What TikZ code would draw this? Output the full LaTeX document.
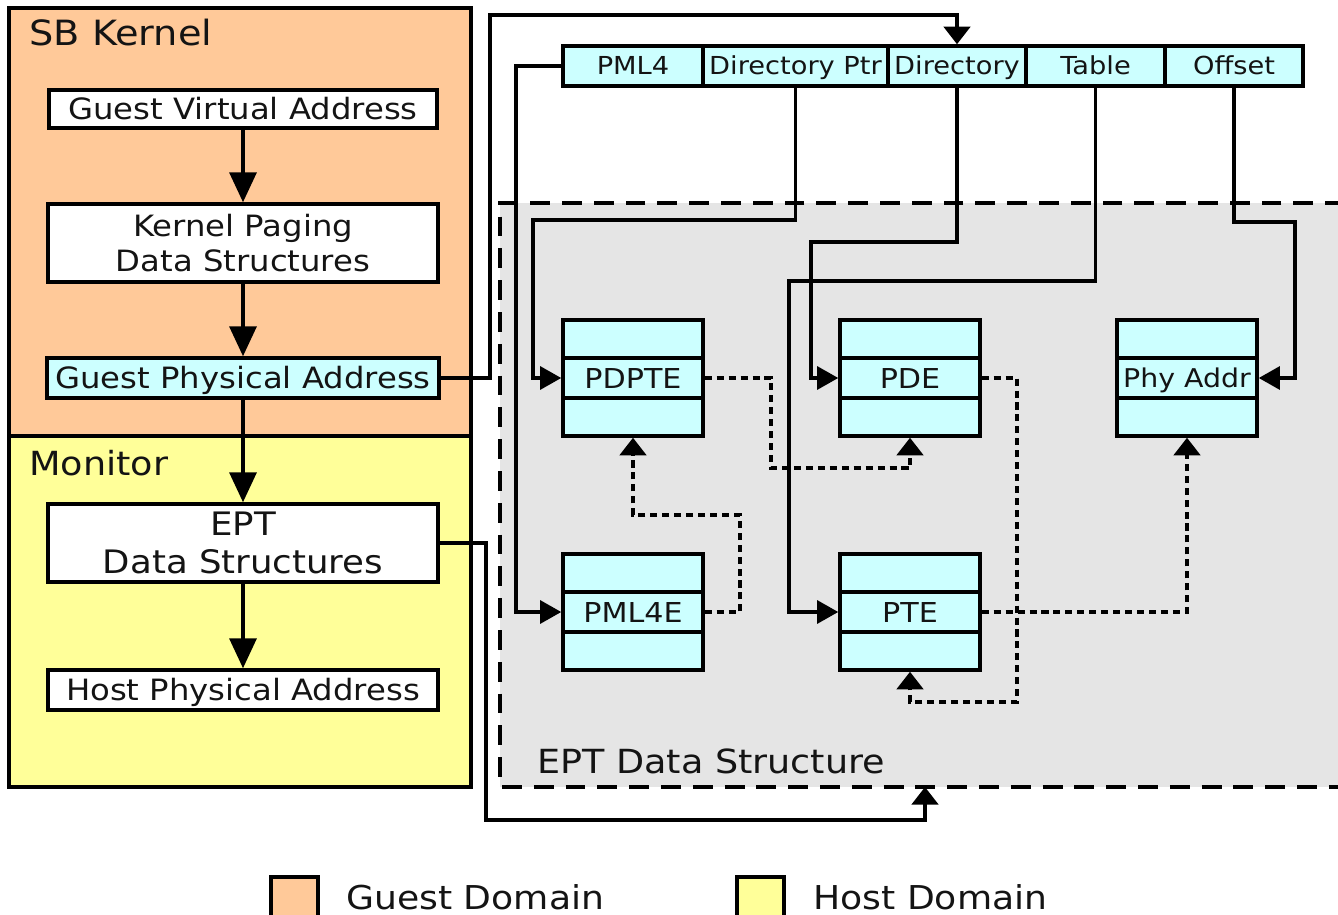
\documentclass[tikz,border=0pt]{standalone}
\usepackage{fontspec}
\setmainfont{DejaVu Sans}[FakeStretch=1.1]
\usetikzlibrary{arrows.meta}
\definecolor{guest}{RGB}{255,201,153}
\definecolor{host}{RGB}{255,255,153}
\definecolor{cyanbox}{RGB}{204,255,255}
\definecolor{eptgray}{RGB}{229,229,229}
\definecolor{ink}{RGB}{20,20,20}
\newcommand\fbody{\fontsize{16.7pt}{20pt}\selectfont}
\newcommand\fsb{\fontsize{19.8pt}{23pt}\selectfont}
\newcommand\fmon{\fontsize{18.9pt}{22pt}\selectfont}
\newcommand\feptbox{\fontsize{18.4pt}{22pt}\selectfont}
\newcommand\ftab{\fontsize{15.6pt}{18pt}\selectfont}
\newcommand\fphy{\fontsize{14.7pt}{18pt}\selectfont}
\newcommand\fhead{\fontsize{14.1pt}{17pt}\selectfont}
\newcommand\flab{\fontsize{18.9pt}{22pt}\selectfont}
\newcommand\fleg{\fontsize{18.7pt}{22pt}\selectfont}
\tikzset{
  lw/.style={line width=2pt},
  box/.style={draw, lw, inner sep=0pt, fill=white, text=ink, font=\fbody, align=center},
  onebox/.style={box, text height=12.2pt, text depth=0pt},
  hdr/.style={draw, lw, inner sep=0pt, fill=cyanbox, text=ink, font=\fhead, minimum height=0.8cm,
    text height=10.2pt, text depth=0pt},
  tbl/.style={draw, lw, inner sep=0pt, fill=cyanbox, text=ink, font=\ftab,
    text height=11.4pt, text depth=0pt,
    minimum width=2.8cm, minimum height=2.32cm,
    path picture={
      \draw[lw] ([yshift=0.4cm]path picture bounding box.west) -- ([yshift=0.4cm]path picture bounding box.east);
      \draw[lw] ([yshift=-0.4cm]path picture bounding box.west) -- ([yshift=-0.4cm]path picture bounding box.east);
    }},
  title/.style={anchor=base west, inner sep=0pt, text=ink},
  bigarr/.style={lw, -{Triangle[width=15.3pt,length=17pt]}},
  medarr/.style={lw, -{Triangle[width=15pt,length=10pt]}},
  sidearr/.style={lw, -{Triangle[width=13pt,length=12pt]}},
  dotarr/.style={lw, dash pattern=on 4pt off 2.8pt, -{Triangle[width=15pt,length=10pt]}},
}
\begin{document}
\begin{tikzpicture}[x=0.02cm,y=-0.02cm]
\useasboundingbox (0,0) rectangle (1338,915);
% domain regions
\draw[lw, fill=guest] (9,8) rectangle (471,436);
\draw[lw, fill=host] (9,436) rectangle (471,787);
\node[title, font=\fsb] (sbk) at (29,46) {SB Kernel};
\node[title, font=\fmon] (mon) at (29,475) {Monitor};
% EPT region
\fill[eptgray] (500,203) rectangle (1345,787);
\draw[lw, dash pattern=on 11.3pt off 6.8pt] (1345,203) -- (500,203) -- (500,787) -- (1345,787);
\node[title, font=\flab] (eptlab) at (537,773) {EPT Data Structure};
\coordinate (eptin) at (925,787);
% left column
\node[onebox, minimum width=7.76cm, minimum height=0.76cm] (gva) at (243,109) {Guest Virtual Address};
\node[box, minimum width=7.8cm, minimum height=1.56cm] (kpds) at (243,243) {Kernel Paging\\Data Structures};
\node[onebox, fill=cyanbox, minimum width=7.84cm, minimum height=0.8cm] (gpa) at (243,378) {Guest Physical Address};
\node[box, font=\feptbox, minimum width=7.8cm, minimum height=1.56cm] (eptds) at (243,543) {EPT\\Data Structures};
\node[onebox, minimum width=7.8cm, minimum height=0.8cm] (hpa) at (243,690) {Host Physical Address};
\draw[bigarr] (gva) -- (kpds);
\draw[bigarr] (kpds) -- (gpa);
\draw[bigarr] (gpa) -- (eptds);
\draw[bigarr] (eptds) -- (hpa);
% header
\node[hdr, minimum width=2.8cm] (pml4) at (633,66) {PML4};
\node[hdr, minimum width=3.7cm] (dptr) at (795.5,66) {Directory Ptr};
\node[hdr, minimum width=2.76cm] (dir) at (957,66) {Directory};
\node[hdr, minimum width=2.78cm] (tab) at (1095.5,66) {Table};
\node[hdr, minimum width=2.76cm] (off) at (1234,66) {Offset};
% tables
\node[tbl] (pdpte) at (633,378) {PDPTE};
\node[tbl] (pde) at (910,378) {PDE};
\node[tbl, font=\fphy, text height=10.7pt] (phy) at (1187,378) {Phy Addr};
\node[tbl] (pml4e) at (633,612) {PML4E};
\node[tbl] (pte) at (910,612) {PTE};
% solid connectors
\draw[medarr] (gpa.east) -| (490,15) -| (dir.north);
\draw[sidearr] (pml4.west) -| (516,612) -- (pml4e.west);
\draw[sidearr] (dptr.south) |- (533,220) |- (pdpte.west);
\draw[sidearr] (dir.south) |- (811,242) |- (pde.west);
\draw[sidearr] (tab.south) |- (789,281) |- (pte.west);
\draw[sidearr] (off.south) |- (1295,222) |- (phy.east);
\draw[medarr] (eptds.east) -| (486,820) -| (eptin);
% dotted connectors
\draw[dotarr] (pml4e.east) -| (740,515) -| (pdpte.south);
\draw[dotarr] (pdpte.east) -| (771,468) -| (pde.south);
\draw[dotarr] (pde.east) -| (1017,702) -| (pte.south);
\draw[dotarr] (pte.east) -| (phy.south);
% legend
\draw[lw, fill=guest] (271,877) rectangle (318,935);
\node[title, font=\fleg] (lg) at (346,909) {Guest Domain};
\draw[lw, fill=host] (737,877) rectangle (784,935);
\node[title, font=\fleg] (lh) at (813,909) {Host Domain};
\end{tikzpicture}
\end{document}
